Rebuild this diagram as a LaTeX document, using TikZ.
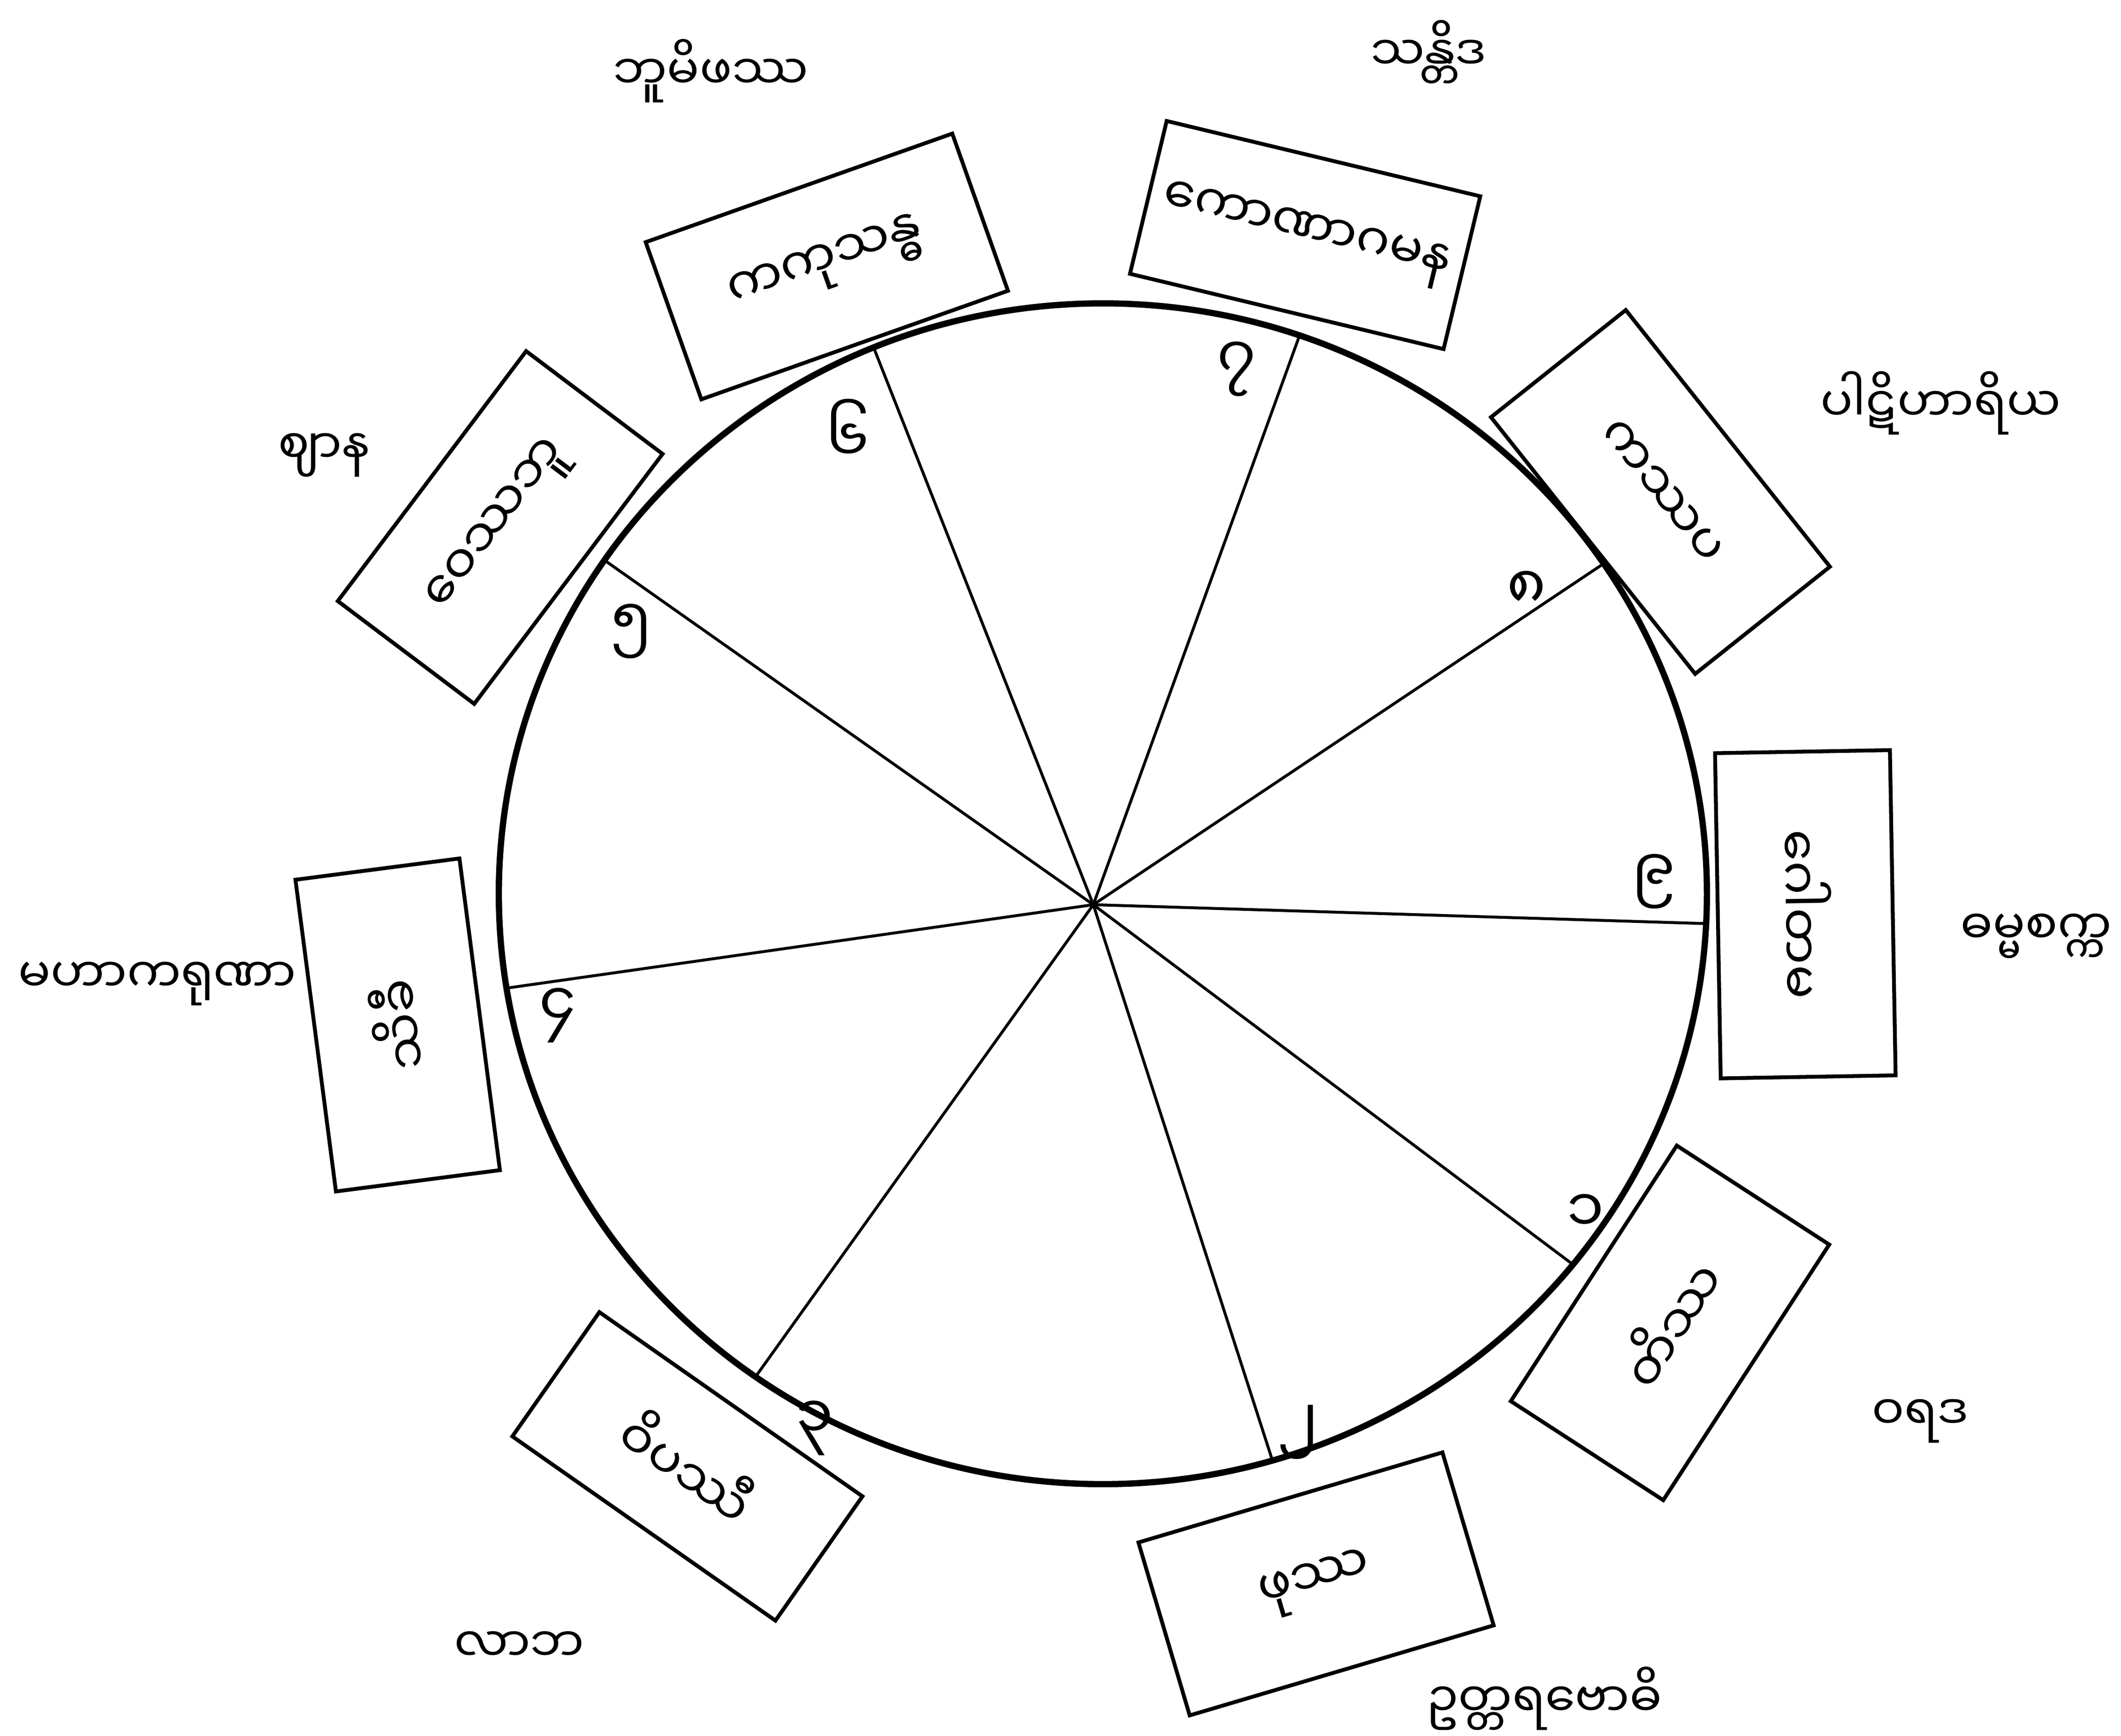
\documentclass[tikz,border=0pt]{standalone}
\usepackage{fontspec}
\usetikzlibrary{calc}
\newfontfamily\mya[Script=Myanmar]{Noto Sans Myanmar UI}
\tikzset{
  bud/.style={draw=black,line width=0.8pt,inner sep=0pt,font=\mya\fontsize{10.5}{12}\selectfont},
  num/.style={font=\mya\fontsize{12.5}{14}\selectfont},
  lab/.style={font=\mya\fontsize{10}{12}\selectfont}
}
\begin{document}
\begin{tikzpicture}
        \useasboundingbox (0,0) rectangle (15.52,12.70);
        \coordinate (O) at (8.07,6.16);
        \coordinate (H) at (8.00,6.08);
        \draw[line width=1.3pt] (O) ellipse [x radius=4.42, y radius=4.32];
        % ends of the spokes on the rim
        \coordinate (S1) at ($(O)+(-38.9:4.42 and 4.32)$);
        \coordinate (S2) at ($(O)+(-73.7:4.42 and 4.32)$);
        \coordinate (S3) at ($(O)+(234.9:4.42 and 4.32)$);
        \coordinate (S4) at ($(O)+(189.2:4.42 and 4.32)$);
        \coordinate (S5) at ($(O)+(145.6:4.42 and 4.32)$);
        \coordinate (S6) at ($(O)+(112.3:4.42 and 4.32)$);
        \coordinate (S7) at ($(O)+(71.0:4.42 and 4.32)$);
        \coordinate (S8) at ($(O)+(34.0:4.42 and 4.32)$);
        \coordinate (S9) at ($(O)+(-2.9:4.42 and 4.32)$);
        \begin{scope}[every edge/.style={draw=black,line width=0.6pt}]
          \path (H) edge (S1);
          \path (H) edge (S2);
          \path (H) edge (S3);
          \path (H) edge (S4);
          \path (H) edge (S5);
          \path (H) edge (S6);
          \path (H) edge (S7);
          \path (H) edge (S8);
          \path (H) edge (S9);
        \end{scope}
        \begin{scope}[every node/.style={bud}]
          \node[minimum width=2.23cm,minimum height=1.33cm,rotate=57] (B1) at (12.22,3.02) {တိဿ};
          \node[minimum width=2.32cm,minimum height=1.32cm,rotate=16.5] (B2) at (9.63,1.11) {ဖုဿ};
          \node[minimum width=2.35cm,minimum height=1.11cm,rotate=-35] (B3) at (5.03,1.97) {ဝိပဿီ};
          \node[minimum width=2.30cm,minimum height=1.21cm,rotate=97.4] (B4) at (2.91,5.20) {သိခီ};
          \node[minimum width=2.29cm,minimum height=1.25cm,rotate=53] (B5) at (3.66,8.84) {ဝေဿဘူ};
          \node[minimum width=2.38cm,minimum height=1.22cm,rotate=19.5] (B6) at (6.05,10.75) {ကကုသန္ဓ};
          \node[minimum width=2.36cm,minimum height=1.15cm,rotate=-13.5] (B7) at (9.55,10.98) {ကောဏာဂမန};
          \node[minimum width=2.40cm,minimum height=1.26cm,rotate=-51.5] (B8) at (12.15,9.10) {ကဿပ};
          \node[minimum width=2.38cm,minimum height=1.28cm,rotate=-89] (B9) at (13.21,6.01) {ဂေါတမ};
        \end{scope}
        \begin{scope}[every node/.style={num}]
          \node (N1) at (11.60,3.82) {၁};
          \node (N2) at (9.50,2.22) {၂};
          \node (N3) at (5.96,2.25) {၃};
          \node (N4) at (4.08,5.27) {၄};
          \node (N5) at (4.62,8.08) {၅};
          \node (N6) at (6.20,9.55) {၆};
          \node (N7) at (9.05,10.00) {၇};
          \node (N8) at (11.17,8.38) {၈};
          \node (N9) at (12.10,6.25) {၉};
        \end{scope}
        \begin{scope}[every node/.style={lab}]
          \node (L1) at (14.05,2.30) {ဝရဒ};
          \node (L2) at (11.30,0.27) {ဥတ္တရဗောဓိ};
          \node (L3) at (3.80,0.65) {လာဘ};
          \node (L4) at (1.15,5.50) {မဟာကရုဏာ};
          \node (L5) at (2.37,9.37) {ဈာန};
          \node (L6) at (5.20,12.18) {ဘူမိဖဿ};
          \node (L7) at (10.45,12.32) {သန္တိဒ};
          \node (L8) at (14.20,9.75) {ပါဋိဟာရိယ};
          \node (L9) at (14.90,5.85) {ဓမ္မစက္က};
        \end{scope}
\end{tikzpicture}
\end{document}
